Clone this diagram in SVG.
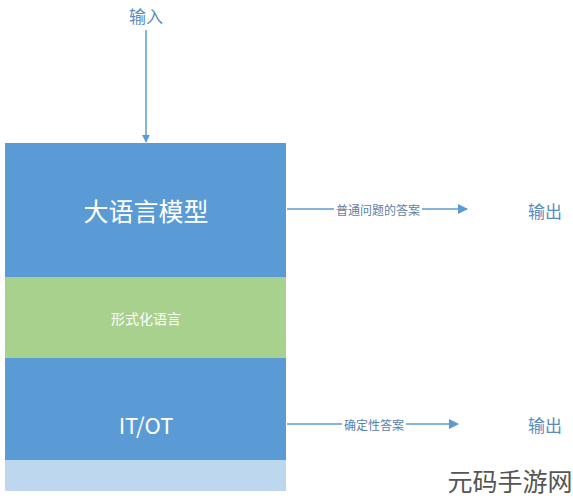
<svg xmlns="http://www.w3.org/2000/svg" width="573" height="500" viewBox="0 0 573 500">
<style>
text{font-family:"Noto Sans CJK SC","Liberation Sans",sans-serif;text-anchor:middle;dominant-baseline:central}
.line{stroke:#5b9bd5;stroke-width:1.5;fill:none}
.lbl{font-size:12px;fill:#5a7fa8}
.io{font-size:17px;fill:#5a8cc0}
.w{fill:#ffffff}
</style>
<defs>
<marker id="ah" viewBox="0 0 10 10" refX="9" refY="5" markerWidth="8" markerHeight="8" markerUnits="userSpaceOnUse" orient="auto">
<path d="M0,0 L10,5 L0,10 z" fill="#5b9bd5"/>
</marker>
<marker id="ah2" viewBox="0 0 10 10" refX="9" refY="5" markerWidth="10" markerHeight="10" markerUnits="userSpaceOnUse" orient="auto">
<path d="M0,0 L10,5 L0,10 z" fill="#5b9bd5"/>
</marker>
</defs>
<rect width="573" height="500" fill="#ffffff"/>
<g id="llm"><rect x="5" y="143" width="281" height="134" fill="#5b9bd5"/><text x="146" y="210" class="w" font-size="25">大语言模型</text></g>
<g id="formal"><rect x="5" y="277" width="281" height="81" fill="#a9d18e"/><text x="146" y="318" class="w" font-size="14">形式化语言</text></g>
<g id="itot"><rect x="5" y="358" width="281" height="102" fill="#5b9bd5"/><text x="146" y="424" class="w" font-size="22">IT/OT</text></g>
<g id="base"><rect x="5" y="460" width="281" height="31" fill="#bdd7ee"/></g>
<g id="input"><text x="146" y="15" class="io">输入</text></g>
<g id="out1"><text x="545" y="210" class="io">输出</text></g>
<g id="out2"><text x="545" y="424" class="io">输出</text></g>
<g id="connectors">
<line x1="287" y1="209" x2="467" y2="209" class="line" marker-end="url(#ah2)"/>
<rect x="334" y="202" width="88" height="14" fill="#ffffff"/>
<text x="378" y="209" class="lbl">普通问题的答案</text>
<line x1="287" y1="424" x2="458" y2="424" class="line" marker-end="url(#ah2)"/>
<rect x="342" y="417" width="64" height="14" fill="#ffffff"/>
<text x="374" y="424" class="lbl">确定性答案</text>
<line x1="146" y1="30" x2="146" y2="142" class="line" marker-end="url(#ah)"/>
</g>
<text x="510" y="480" font-size="25" fill="#555555">元码手游网</text>
</svg>
